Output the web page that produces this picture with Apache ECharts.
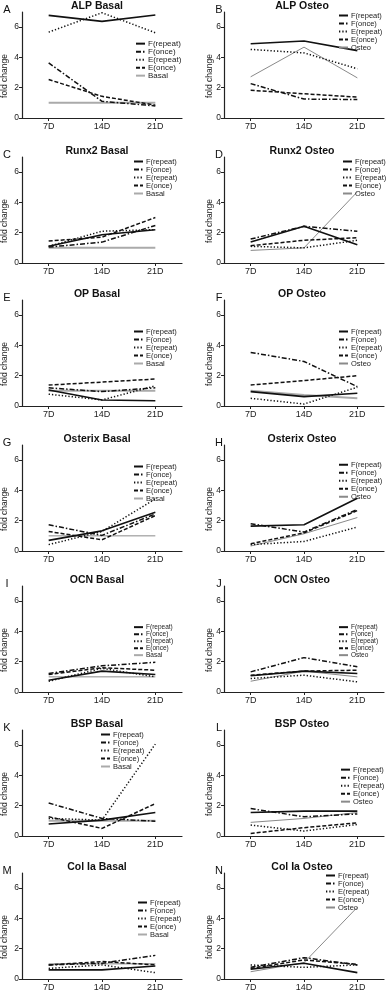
<!DOCTYPE html>
<html><head><meta charset="utf-8">
<script src="https://cdn.jsdelivr.net/npm/echarts@6/dist/echarts.min.js"></script>
<style>html,body{margin:0;padding:0;background:#fff}#c{width:389px;height:992px}</style>
</head><body><div id="c"></div>
<script>
const categories = ['7D', '14D', '21D'];
const yTicks = [0, 2, 4, 6];
const treatNames = ['F(repeat)', 'F(once)', 'E(repeat)', 'E(once)'];
const panelTitles = ['ALP Basal','ALP Osteo','Runx2 Basal','Runx2 Osteo','OP Basal','OP Osteo','Osterix Basal','Osterix Osteo','OCN Basal','OCN Osteo','BSP Basal','BSP Osteo','Col Ia Basal','Col Ia Osteo'];
const panelLetters = ['A','B','C','D','E','F','G','H','I','J','K','L','M','N'];
// values per panel: F(repeat), F(once), E(repeat), E(once), control (Basal/Osteo)
const alpBasal    = [[6.78,6.38,6.8],[3.64,1.1,0.8],[5.67,6.95,5.63],[2.54,1.43,0.85],[1,1,1]];
const alpOsteo    = [[4.9,5.08,4.45],[2.27,1.25,1.22],[4.53,4.3,3.25],[1.83,1.6,1.38],[2.72,4.68,2.65]];
const runx2Basal  = [[1.1,1.87,2.2],[1.05,1.38,2.48],[1.1,2.1,2.2],[1.45,1.71,3.0],[1,1,1]];
const runx2Osteo  = [[1.38,2.42,1.2],[1.58,2.42,2.1],[1.1,1.0,1.5],[1.14,1.5,1.67],[0.83,1.0,4.7]];
const opBasal     = [[1.06,0.4,0.35],[1.2,0.95,1.2],[0.78,0.4,1.33],[1.38,1.58,1.78],[1,1,1]];
const opOsteo     = [[0.95,0.62,0.84],[3.54,2.94,1.28],[0.51,0.13,1.24],[1.39,1.68,2.0],[1.0,0.73,0.51]];
const osxBasal    = [[0.7,1.33,2.56],[1.73,1.03,2.45],[0.42,1.29,3.44],[1.29,0.74,2.34],[1,1,1]];
const osxOsteo    = [[1.64,1.73,3.48],[1.8,1.25,2.74],[0.42,0.63,1.58],[0.48,1.2,2.67],[0.33,1.14,2.21]];
const ocnBasal    = [[0.78,1.38,1.16],[1.22,1.73,1.96],[0.71,1.56,1.0],[1.16,1.6,1.44],[1,1,1]];
const ocnOsteo    = [[1.07,1.38,1.22],[1.33,2.27,1.67],[0.89,1.11,0.67],[1.11,1.38,1.44],[0.71,1.38,1.0]];
const bspBasal    = [[0.79,1.05,1.55],[2.18,1.16,0.98],[1.16,1.05,6.07],[1.27,0.5,2.14],[1,1,1]];
const bspOsteo    = [[1.55,1.64,1.64],[1.81,1.27,1.46],[0.72,0.33,0.76],[0.17,0.55,0.87],[0.9,1.16,1.55]];
const col1aBasal  = [[0.6,0.6,0.86],[0.93,1.04,1.56],[0.7,0.93,0.42],[0.93,1.15,0.93],[1,1,1]];
const col1aOsteo  = [[0.64,1.04,0.42],[0.77,1.41,0.93],[0.93,0.77,0.93],[0.7,1.26,0.97],[0.48,1.08,4.74]];
const panelData = [alpBasal,alpOsteo,runx2Basal,runx2Osteo,opBasal,opOsteo,osxBasal,osxOsteo,ocnBasal,ocnOsteo,bspBasal,bspOsteo,col1aBasal,col1aOsteo];

// layout (pixels)
const zeroY = [118, 263, 406, 551, 692, 836, 979];
const colLeft = [22, 224];
const plotW = 160, plotH = 106;
const legLeft   = [135,338,133,342,133,338,133,338,133,338,100,340,137,325];
const legOffset = [-75,-103,-102,-102,-75,-75,-85,-87,-66,-66,-102,-68,-77,-104];
const legSpace  = [6.7,7,7,7,7,7,7,6.5,4.7,4.7,7,4.7,7,7];
const legFont   = [8,7.5,7.5,7.5,7.5,7.5,7.5,7.5,6.5,6.5,7.5,7.5,7.5,7.5];
const thickCtrl = [true,false,true,false,true,true,false,false,false,false,true,false,false,false];
const FONT = 'Liberation Sans, Arial, sans-serif';
const lineTypes = ['solid',[5,2,1.5,2],[1.3,2],[4,2]];

const grids=[],xAxes=[],yAxes=[],series=[],legends=[],graphics=[];
panelData.forEach((pd, i) => {
  const row = Math.floor(i/2), col = i%2;
  const z = zeroY[row];
  const ctrlName = col === 0 ? 'Basal' : 'Osteo';
  grids.push({left: colLeft[col], top: z - plotH, width: plotW, height: plotH});
  xAxes.push({type:'category', gridIndex:i, data:categories, boundaryGap:true,
    axisLine:{show:true, lineStyle:{color:'#222', width:1.2}},
    axisTick:{show:true, alignWithLabel:true, length:3, lineStyle:{color:'#222'}},
    axisLabel:{fontSize:9, color:'#222', margin:4, fontFamily:FONT}, splitLine:{show:false}});
  yAxes.push({type:'value', gridIndex:i, min:0, max:7, interval:2,
    axisLine:{show:true, lineStyle:{color:'#222', width:1.2}},
    axisTick:{show:true, length:3, customValues:yTicks, lineStyle:{color:'#222'}},
    axisLabel:{fontSize:8.5, color:'#222', margin:3, fontFamily:FONT, customValues:yTicks},
    splitLine:{show:false}});
  pd.forEach((vals, k) => {
    const isCtrl = k === 4;
    const col0 = isCtrl ? (thickCtrl[i] ? '#aaaaaa' : '#8a8a8a') : '#111';
    series.push({type:'line', name: isCtrl ? ctrlName : treatNames[k], xAxisIndex:i, yAxisIndex:i,
      data: vals, symbol:'none', silent:true, animation:false, color: col0,
      itemStyle:{color: col0},
      lineStyle: isCtrl ? {color: col0, width: thickCtrl[i] ? 2 : 1, type:'solid'}
                        : {color: col0, width: k===0 ? 1.6 : 1.5, type: lineTypes[k]},
      z: isCtrl ? 1 : 2});
  });
  legends.push({orient:'vertical', left: legLeft[i], top: z + legOffset[i] - legSpace[i]/2,
    data: treatNames.concat([ctrlName]), itemWidth:9, itemHeight: legSpace[i], itemGap:0,
    padding:0, selectedMode:false,
    itemStyle:{opacity:0, borderWidth:0},
    textStyle:{fontSize:legFont[i], lineHeight:legSpace[i], color:'#222', fontFamily:FONT, padding:[0,0,0,-2]}});
  const cx = col === 0 ? 97 : 302;
  graphics.push({type:'text', x: cx, y: z - 112, style:{text: panelTitles[i], font:'bold 10.5px ' + FONT, fill:'#111', textAlign:'center', textVerticalAlign:'middle'}});
  graphics.push({type:'text', x: col === 0 ? 7 : 219, y: z - 108, style:{text: panelLetters[i], font:'11px ' + FONT, fill:'#111', textAlign:'center', textVerticalAlign:'middle'}});
  graphics.push({type:'text', x: col === 0 ? 5 : 210, y: z - 42, rotation: Math.PI/2, style:{text:'fold change', font:'8.5px ' + FONT, fill:'#222', textAlign:'center', textVerticalAlign:'middle'}});
});

const chart = echarts.init(document.getElementById('c'), null, {renderer:'canvas'});
chart.setOption({animation:false, backgroundColor:'#fff', grid:grids, xAxis:xAxes, yAxis:yAxes, series:series, legend:legends, graphic:graphics});
</script></body></html>
